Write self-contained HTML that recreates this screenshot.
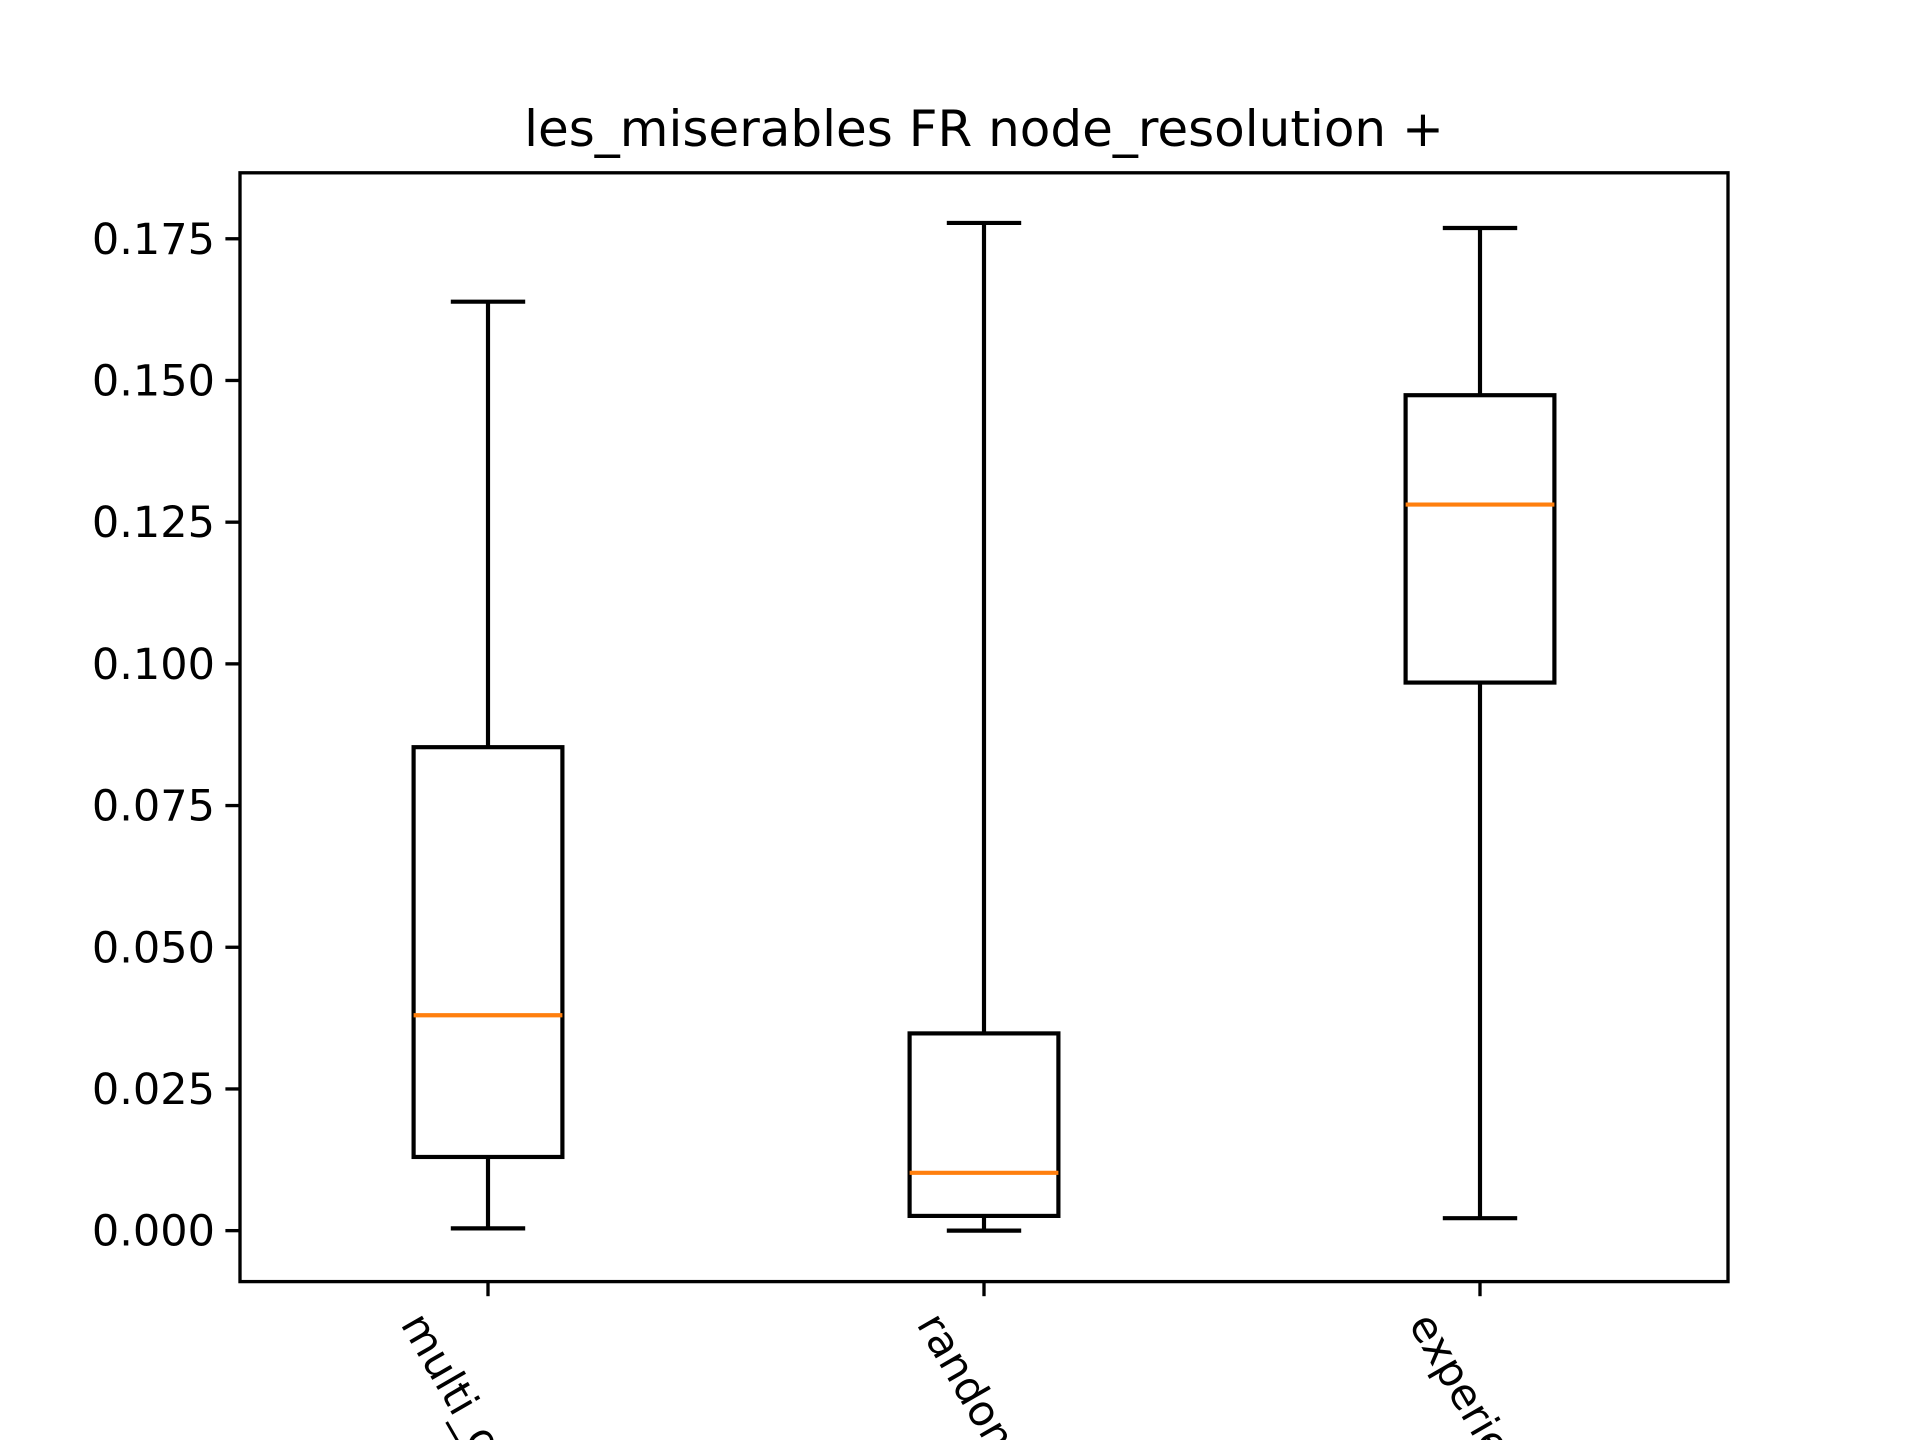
<!DOCTYPE html>
<html><head><meta charset="utf-8"><style>
html,body{margin:0;padding:0;background:#fff;overflow:hidden;width:1920px;height:1440px;}
svg{display:block;font-family:"DejaVu Sans","Liberation Sans",sans-serif;}
</style></head><body>
<svg id="chart" width="1920" height="1440" viewBox="0 0 1920 1440">
<rect width="1920" height="1440" fill="#fff"/>
<text x="984" y="146" text-anchor="middle" font-size="50" fill="#000">les_miserables FR node_resolution +</text>
<g id="plot"></g>
</svg>
<script>
const categories = ["multi_objective", "random", "experience"];
const whiskerLow = [0.0004, 0.0000, 0.0022];
const q1Values = [0.0130, 0.0026, 0.0967];
const medians = [0.0380, 0.0102, 0.1281];
const q3Values = [0.0853, 0.0348, 0.1474];
const whiskerHigh = [0.1639, 0.1778, 0.1769];
const yTicks = [0, 0.025, 0.05, 0.075, 0.1, 0.125, 0.15, 0.175];
const yTickLabels = ["0.000","0.025","0.050","0.075","0.100","0.125","0.150","0.175"];

const L=240,R=1728,T=172.8,B=1281.6;
const yMin=-0.00899,yMax=0.18664;
const y=v=>B-(v-yMin)/(yMax-yMin)*(B-T);
const x=i=>L+(i+1-0.5)/3*(R-L);
const NS="http://www.w3.org/2000/svg";
const g=document.getElementById('plot');
function mk(tag,attrs,parent){const e=document.createElementNS(NS,tag);for(const k in attrs)e.setAttribute(k,attrs[k]);(parent||g).appendChild(e);return e;}
const labelShift=[-88,-68,-72];

const unit=(R-L)/3, bw=0.3*unit, cw=bw/2;
categories.forEach((c,i)=>{
  const cx=x(i);
  const grp=mk('g',{});
  
  
  const st={stroke:'#000','stroke-width':4.17,fill:'none'};
  let e=mk('line',Object.assign({x1:cx,x2:cx,y1:y(q3Values[i]),y2:y(whiskerHigh[i])},st),grp);
  
  
  e=mk('line',Object.assign({x1:cx,x2:cx,y1:y(q1Values[i]),y2:y(whiskerLow[i])},st),grp);
  
  
  e=mk('line',Object.assign({x1:cx-cw/2,x2:cx+cw/2,y1:y(whiskerHigh[i]),y2:y(whiskerHigh[i])},st),grp);
  
  
  e=mk('line',Object.assign({x1:cx-cw/2,x2:cx+cw/2,y1:y(whiskerLow[i]),y2:y(whiskerLow[i])},st),grp);
  
  
  e=mk('rect',Object.assign({x:cx-bw/2,y:y(q3Values[i]),width:bw,height:y(q1Values[i])-y(q3Values[i])},st),grp);
  
  
  e=mk('line',{x1:cx-bw/2,x2:cx+bw/2,y1:y(medians[i]),y2:y(medians[i]),stroke:'#ff7f0e','stroke-width':4.17},grp);
  
  
  e=mk('line',{x1:cx,x2:cx,y1:B,y2:B+14.6,stroke:'#000','stroke-width':3.33});
  
  
  const lx=cx+labelShift[i], ly=1324;
  e=mk('text',{x:lx,y:ly,'font-size':42.5,fill:'#000',transform:`rotate(60 ${lx} ${ly})`});
  e.textContent=c;
  
  
});

yTicks.forEach((v,i)=>{
  let e=mk('line',{x1:L-14.6,x2:L,y1:y(v),y2:y(v),stroke:'#000','stroke-width':3.33});
  
  
  e=mk('text',{x:L-25,y:y(v)+15,'text-anchor':'end','font-size':43,fill:'#000'});
  e.textContent=yTickLabels[i];
  
  
});

const frame=mk('rect',{x:L,y:T,width:R-L,height:B-T,fill:'none',stroke:'#000','stroke-width':3.33});


</script>
</body></html>
